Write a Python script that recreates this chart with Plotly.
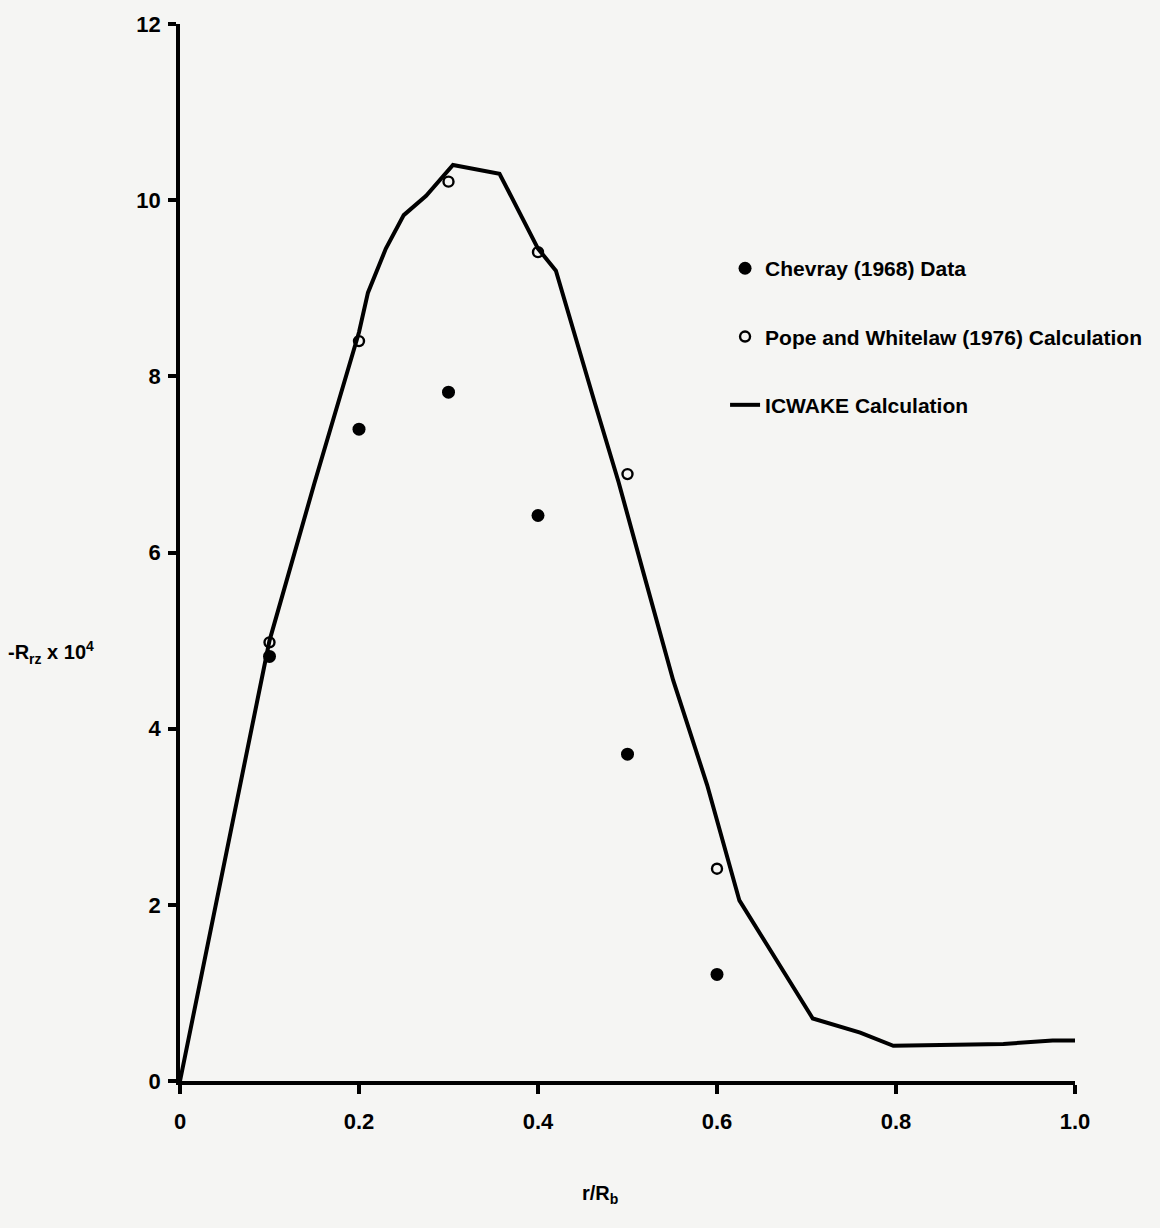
import plotly.graph_objects as go

# ICWAKE calculation curve
r_line = [0.0, 0.1, 0.15, 0.2, 0.21, 0.23, 0.25, 0.275, 0.305, 0.357, 0.40, 0.42,
          0.464, 0.49, 0.517, 0.551, 0.589, 0.625, 0.707, 0.76, 0.797, 0.92, 0.975, 1.0]
rz_line = [0.0, 5.0, 6.78, 8.5, 8.95, 9.45, 9.83, 10.05, 10.4, 10.3, 9.45, 9.2,
           7.68, 6.8, 5.8, 4.55, 3.36, 2.05, 0.71, 0.55, 0.40, 0.42, 0.46, 0.46]

# Chevray (1968) measurements
r_chevray = [0.1, 0.2, 0.3, 0.4, 0.5, 0.6]
rz_chevray = [4.82, 7.40, 7.82, 6.42, 3.71, 1.21]

# Pope and Whitelaw (1976) calculation
r_pope = [0.1, 0.2, 0.3, 0.4, 0.5, 0.6]
rz_pope = [4.98, 8.40, 10.21, 9.41, 6.89, 2.41]

x_ticks = [0, 0.2, 0.4, 0.6, 0.8, 1.0]
x_ticktext = ["0", "0.2", "0.4", "0.6", "0.8", "1.0"]
y_ticks = [0, 2, 4, 6, 8, 10, 12]

FONT = "Liberation Sans, Arial"
BG = "#f5f5f3"

fig = go.Figure()
fig.add_trace(go.Scatter(
    x=r_chevray, y=rz_chevray, mode="markers", name="Chevray (1968) Data",
    legendgroup="a",
    marker=dict(symbol="circle", size=13, color="black"),
))
fig.add_trace(go.Scatter(
    x=r_pope, y=rz_pope, mode="markers", name="Pope and Whitelaw (1976) Calculation",
    legendgroup="b",
    marker=dict(symbol="circle-open", size=10, color="black", line=dict(width=2.4)),
))
fig.add_trace(go.Scatter(
    x=r_line, y=rz_line, mode="lines", name="ICWAKE Calculation",
    legendgroup="c",
    line=dict(color="black", width=4),
))

fig.update_layout(
    width=1160, height=1228,
    margin=dict(l=180, r=85, t=19, b=147),
    paper_bgcolor=BG, plot_bgcolor=BG,
    font=dict(family=FONT, color="black", size=20),
    showlegend=True,
    legend=dict(
        x=0.609, y=0.788, xanchor="left", yanchor="top",
        bgcolor="rgba(0,0,0,0)", tracegroupgap=38,
        font=dict(family=FONT, size=21, color="black", weight="bold"),
        itemwidth=30,
    ),
    xaxis=dict(
        range=[0, 1.0], tickvals=x_ticks, ticktext=x_ticktext,
        showgrid=False, zeroline=False, showline=True, linecolor="black", linewidth=3.5,
        ticks="outside", ticklen=9, tickwidth=3.5, tickcolor="black",
        tickfont=dict(family=FONT, size=22, weight="bold"),
        ticklabelstandoff=9,
    ),
    yaxis=dict(
        range=[0, 12], tickvals=y_ticks,
        showgrid=False, zeroline=False, showline=True, linecolor="black", linewidth=3.5,
        ticks="outside", ticklen=8, tickwidth=3.5, tickcolor="black",
        tickfont=dict(family=FONT, size=22, weight="bold"),
        ticklabelstandoff=3,
    ),
    annotations=[
        dict(text="r/R<sub>b</sub>", xref="paper", yref="paper", x=0.469, y=-0.107,
             xanchor="center", yanchor="middle", showarrow=False,
             font=dict(family=FONT, size=20, weight="bold")),
        dict(text="-R<sub>rz</sub> x 10<sup>4</sup>", xref="paper", yref="paper", x=-0.194, y=0.405,
             xanchor="left", yanchor="middle", showarrow=False,
             font=dict(family=FONT, size=20, weight="bold")),
    ],
)

fig.write_html("out.html")
